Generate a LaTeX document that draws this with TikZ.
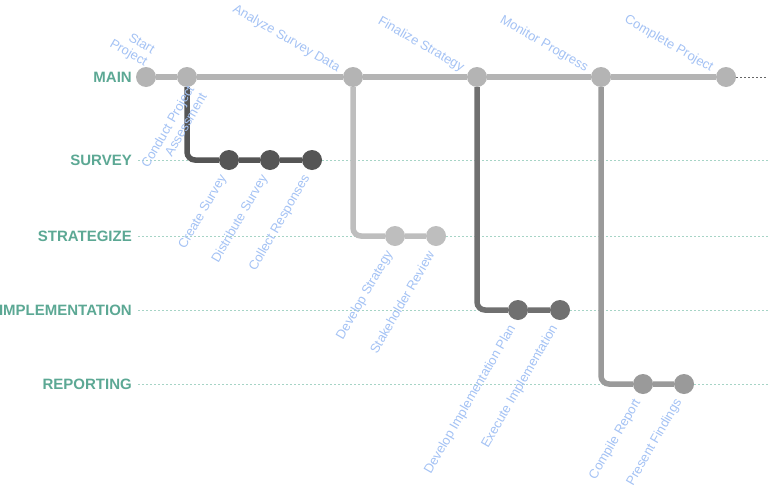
\documentclass[tikz,border=0pt]{standalone}
\usepackage{fontspec}
\setmainfont{Liberation Sans}
\usetikzlibrary{calc}
\definecolor{lanegreen}{RGB}{92,168,148}
\definecolor{dotgreen}{RGB}{166,212,198}
\definecolor{taskblue}{RGB}{164,194,244}
\definecolor{mainc}{RGB}{180,180,180}
\definecolor{surveyc}{RGB}{85,85,85}
\definecolor{stratc}{RGB}{190,190,190}
\definecolor{implc}{RGB}{112,112,112}
\definecolor{reportc}{RGB}{154,154,154}

\begin{document}
\begin{tikzpicture}[x=1pt,y=-1pt,
		lane/.style={anchor=east,inner sep=0,font=\fontsize{15}{17}\selectfont\bfseries,text=lanegreen},
		lanedot/.style={line width=1pt,dash pattern=on 1.5pt off 2.5pt,color=dotgreen},
		dot/.style={circle,inner sep=0,minimum size=20pt},
		track/.style={line width=5.5pt,rounded corners=8pt},
		tasktop/.style={anchor=east,rotate=-30,inner sep=0,font=\fontsize{13}{14.5}\selectfont,text=taskblue},
		taskbot/.style={anchor=east,rotate=60,inner sep=0,font=\fontsize{13}{14.5}\selectfont,text=taskblue}]
			%%%%% START %%%%%
			
			\useasboundingbox (0, 0) rectangle (768, 490);
			
			% lanes
			\node[lane] (lmain) at (132, 77) {MAIN};
			\node[lane] (lsurvey) at (132, 160) {SURVEY};
			\node[lane] (lstrat) at (132, 236) {STRATEGIZE};
			\node[lane] (limpl) at (132, 310) {IMPLEMENTATION};
			\node[lane] (lreport) at (132, 384) {REPORTING};
			
			\coordinate (emain) at (768, 77);
			\coordinate (esurvey) at (768, 160);
			\coordinate (estrat) at (768, 236);
			\coordinate (eimpl) at (768, 310);
			\coordinate (ereport) at (768, 384);
			
			\draw[lanedot] ([xshift=6pt]lsurvey.east) -- (esurvey);
			\draw[lanedot] ([xshift=6pt]lstrat.east) -- (estrat);
			\draw[lanedot] ([xshift=6pt]limpl.east) -- (eimpl);
			\draw[lanedot] ([xshift=6pt]lreport.east) -- (ereport);
			
			% commits
			\node[dot, fill=mainc] (m1) at (146, 77) {};
			\node[dot, fill=mainc] (m2) at (187, 77) {};
			\node[dot, fill=mainc] (m3) at (353, 77) {};
			\node[dot, fill=mainc] (m4) at (477, 77) {};
			\node[dot, fill=mainc] (m5) at (601, 77) {};
			\node[dot, fill=mainc] (m6) at (726, 77) {};
			
			\node[dot, fill=surveyc] (s1) at (229, 160) {};
			\node[dot, fill=surveyc] (s2) at (270, 160) {};
			\node[dot, fill=surveyc] (s3) at (312, 160) {};
			
			\node[dot, fill=stratc] (g1) at (395, 236) {};
			\node[dot, fill=stratc] (g2) at (436, 236) {};
			
			\node[dot, fill=implc] (i1) at (518, 310) {};
			\node[dot, fill=implc] (i2) at (560, 310) {};
			
			\node[dot, fill=reportc] (r1) at (643, 384) {};
			\node[dot, fill=reportc] (r2) at (684, 384) {};
			
			% branches
			\draw[track, color=mainc] (m1) -- (m2) -- (m3) -- (m4) -- (m5) -- (m6);
			\draw[lanedot, color=black!60] (m6) -- (emain);
			\draw[track, color=surveyc] (m2) |- (s1) -- (s2) -- (s3);
			\draw[track, color=stratc] (m3) |- (g1) -- (g2);
			\draw[track, color=implc] (m4) |- (i1) -- (i2);
			\draw[track, color=reportc] (m5) |- (r1) -- (r2);
			
			% labels
			\node[tasktop, anchor=south east, align=right] (tm1) at ($(m1)+(-3,-8)$) {Start\\Project};
			\node[taskbot, align=right] (tm2) at ($(m2)+(10,13)$) {Conduct Project\\Assessment};
			\node[tasktop] (tm3) at ($(m3)+(-14,-8)$) {Analyze Survey Data};
			\node[tasktop] (tm4) at ($(m4)+(-14,-8)$) {Finalize Strategy};
			\node[tasktop] (tm5) at ($(m5)+(-14,-8)$) {Monitor Progress};
			\node[tasktop] (tm6) at ($(m6)+(-14,-8)$) {Complete Project};
			
			\node[taskbot] (ts1) at ($(s1)+(-5,16)$) {Create Survey};
			\node[taskbot] (ts2) at ($(s2)+(-5,16)$) {Distribute Survey};
			\node[taskbot] (ts3) at ($(s3)+(-5,16)$) {Collect Responses};
			\node[taskbot] (tg1) at ($(g1)+(-5,16)$) {Develop Strategy};
			\node[taskbot] (tg2) at ($(g2)+(-5,16)$) {Stakeholder Review};
			\node[taskbot] (ti1) at ($(i1)+(-5,16)$) {Develop Implementation Plan};
			\node[taskbot] (ti2) at ($(i2)+(-5,16)$) {Execute Implementation};
			\node[taskbot] (tr1) at ($(r1)+(-5,16)$) {Compile Report};
			\node[taskbot] (tr2) at ($(r2)+(-5,16)$) {Present Findings};
			
			%%%%% END %%%%%
		\end{tikzpicture}
\end{document}
